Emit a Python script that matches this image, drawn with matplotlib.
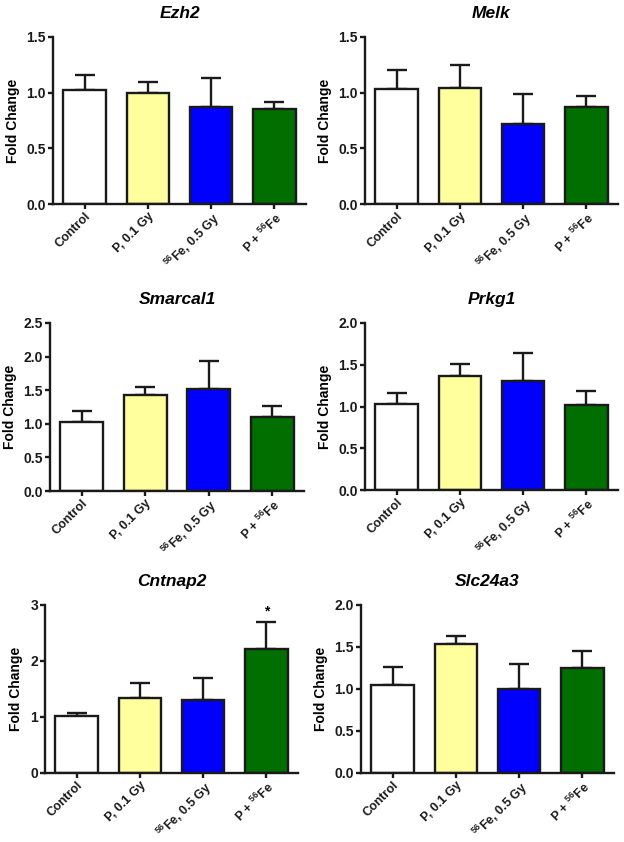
#!/usr/bin/env python3
import matplotlib
matplotlib.use('Agg')
import matplotlib.pyplot as plt

plt.rcParams['font.family'] = ['Liberation Sans', 'DejaVu Sans']
plt.rcParams['font.weight'] = 'bold'
plt.rcParams['mathtext.fontset'] = 'custom'
plt.rcParams['mathtext.rm'] = 'Liberation Sans'
plt.rcParams['mathtext.it'] = 'Liberation Sans:italic'
plt.rcParams['mathtext.bf'] = 'Liberation Sans:bold'

groups = ['Control', 'P, 0.1 Gy', '$^{56}$Fe, 0.5 Gy', 'P + $^{56}$Fe']
colors = ['#FFFFFF', '#FFFF9E', '#0000FF', '#006F00']

genes = ['Ezh2', 'Melk', 'Smarcal1', 'Prkg1', 'Cntnap2', 'Slc24a3']

# mean fold change per group
ezh2 = [1.02, 1.00, 0.875, 0.855]
melk = [1.035, 1.04, 0.715, 0.87]
smarcal1 = [1.03, 1.435, 1.52, 1.095]
prkg1 = [1.025, 1.365, 1.305, 1.015]
cntnap2 = [1.01, 1.34, 1.305, 2.22]
slc24a3 = [1.05, 1.53, 1.005, 1.245]

# top of the error bars
ezh2_top = [1.16, 1.10, 1.13, 0.915]
melk_top = [1.20, 1.25, 0.99, 0.97]
smarcal1_top = [1.185, 1.545, 1.935, 1.265]
prkg1_top = [1.16, 1.505, 1.645, 1.185]
cntnap2_top = [1.075, 1.605, 1.69, 2.70]
slc24a3_top = [1.26, 1.635, 1.295, 1.45]

# y axis ticks per gene
ezh2_ticks = [0.0, 0.5, 1.0, 1.5]
melk_ticks = [0.0, 0.5, 1.0, 1.5]
smarcal1_ticks = [0.0, 0.5, 1.0, 1.5, 2.0, 2.5]
prkg1_ticks = [0.0, 0.5, 1.0, 1.5, 2.0]
cntnap2_ticks = [0, 1, 2, 3]
slc24a3_ticks = [0.0, 0.5, 1.0, 1.5, 2.0]

significant = {'Cntnap2': [3]}

means = [ezh2, melk, smarcal1, prkg1, cntnap2, slc24a3]
tops = [ezh2_top, melk_top, smarcal1_top, prkg1_top, cntnap2_top, slc24a3_top]
ticks = [ezh2_ticks, melk_ticks, smarcal1_ticks, prkg1_ticks, cntnap2_ticks, slc24a3_ticks]

W, H = 624, 842
# axes boxes in pixels: left, right, top, bottom
boxes = [(53, 306, 37, 204), (365, 618, 37, 204),
         (50, 304, 323, 491), (365, 618, 323, 490),
         (45, 298, 605, 773), (361, 614, 605, 773)]

fig = plt.figure(figsize=(W / 100, H / 100), dpi=100)

for gene, vals, top, yt, (l, r, t, b) in zip(genes, means, tops, ticks, boxes):
    ax = fig.add_axes([l / W, 1 - b / H, (r - l) / W, (b - t) / H])
    x = list(range(len(groups)))
    err = [tp - v for tp, v in zip(top, vals)]
    ax.errorbar(x, vals, yerr=[[0] * len(vals), err], fmt='none', ecolor='#1a1a1a',
                elinewidth=1.7, capsize=7, capthick=1.7, zorder=1)
    ax.bar(x, vals, width=0.67, color=colors, edgecolor='#1a1a1a', linewidth=1.7, zorder=2)

    for i in significant.get(gene, []):
        ax.text(x[i], top[i] + 0.02 * yt[-1], '*', ha='center', va='bottom', fontsize=10)

    ax.set_xlim(-0.5, 3.5)
    ax.set_ylim(0, yt[-1])
    ax.set_yticks(yt)
    if isinstance(yt[0], int):
        ax.set_yticklabels([str(v) for v in yt])
    else:
        ax.set_yticklabels(['{:.1f}'.format(v) for v in yt])
    ax.set_xticks(x)
    ax.set_xticklabels(groups, rotation=45, ha='right', rotation_mode='anchor', fontsize=9)
    ax.set_ylabel('Fold Change', fontsize=10, fontweight='bold', labelpad=5)
    ax.set_title(gene, fontsize=12.5, fontweight='bold', style='italic', pad=14)

    for s in ['top', 'right']:
        ax.spines[s].set_visible(False)
    for s in ['left', 'bottom']:
        ax.spines[s].set_linewidth(1.7)
        ax.spines[s].set_color('#1a1a1a')
    ax.tick_params(axis='both', width=1.7, length=3.5, pad=1.5, colors='#1a1a1a', labelsize=10)
    ax.tick_params(axis='x', labelsize=9, pad=1)

fig.savefig('out.png', dpi=100)
